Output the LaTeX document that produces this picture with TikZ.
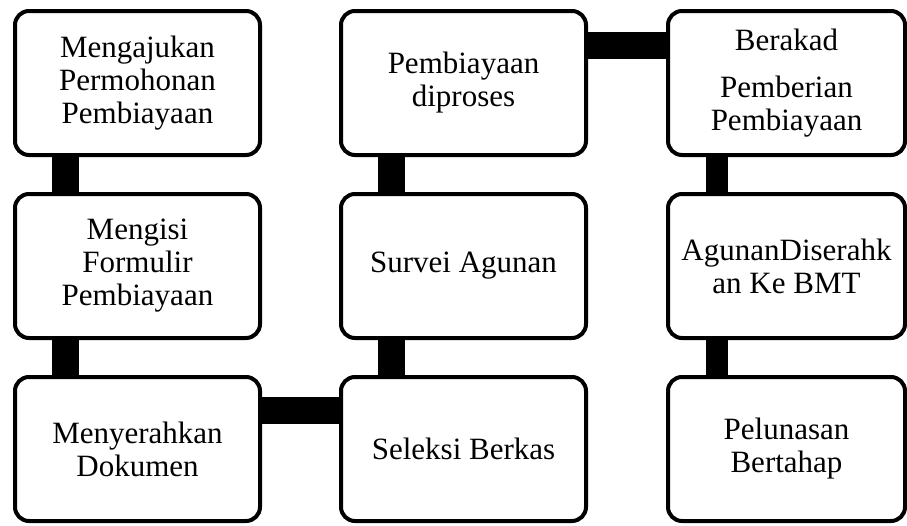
\documentclass[tikz,border=0pt]{standalone}
\usepackage{fontspec}
\setmainfont{Liberation Serif}
\usetikzlibrary{positioning}
\tikzset{
    stepbox/.style={draw=black,fill=white,line width=4pt,rounded corners=14pt,
      minimum width=245pt,minimum height=144pt,inner sep=2pt,
      align=center,font=\fontsize{31}{33}\selectfont},
    narrowbox/.style={stepbox,minimum width=237pt},
    link/.style={draw=black,line width=27pt,line cap=butt},
    thinlink/.style={link,line width=22pt}
}
\begin{document}
\begin{tikzpicture}[x=1pt,y=1pt,node distance=35pt and 77pt]
    \useasboundingbox (0,0) rectangle (907,-525);
    % column 1
    \node[stepbox] (ajukan) at (137.5,-83) {Mengajukan\\Permohonan\\Pembiayaan};
    \node[stepbox,below=of ajukan] (isi) {Mengisi\\Formulir\\Pembiayaan};
    \node[stepbox,below=of isi] (serah) {Menyerahkan\\Dokumen};
    % column 2
    \node[stepbox,right=of serah] (seleksi) {Seleksi Berkas};
    \node[stepbox,above=of seleksi] (survei) {Survei Agunan};
    \node[stepbox,above=of survei] (proses) {Pembiayaan\\diproses};
    % column 3
    \node[narrowbox,right=78pt of proses] (akad) {Berakad\\[14pt]Pemberian\\Pembiayaan};
    \node[narrowbox,below=of akad] (agunan) {AgunanDiserahk\\an Ke BMT};
    \node[narrowbox,below=of agunan] (lunas) {Pelunasan\\Bertahap};
    % connectors
    \draw[link] ([xshift=52pt]ajukan.south west) -- ([xshift=52pt]isi.north west);
    \draw[link] ([xshift=52pt]isi.south west) -- ([xshift=52pt]serah.north west);
    \draw[link] ([yshift=-35pt]serah.north east) -- ([yshift=-35pt]seleksi.north west);
    \draw[link] ([xshift=52pt]seleksi.north west) -- ([xshift=52pt]survei.south west);
    \draw[link] ([xshift=52pt]survei.north west) -- ([xshift=52pt]proses.south west);
    \draw[link] ([yshift=-36pt]proses.north east) -- ([yshift=-36pt]akad.north west);
    \draw[thinlink] ([xshift=51pt]akad.south west) -- ([xshift=51pt]agunan.north west);
    \draw[thinlink] ([xshift=51pt]agunan.south west) -- ([xshift=51pt]lunas.north west);
\end{tikzpicture}
\end{document}
